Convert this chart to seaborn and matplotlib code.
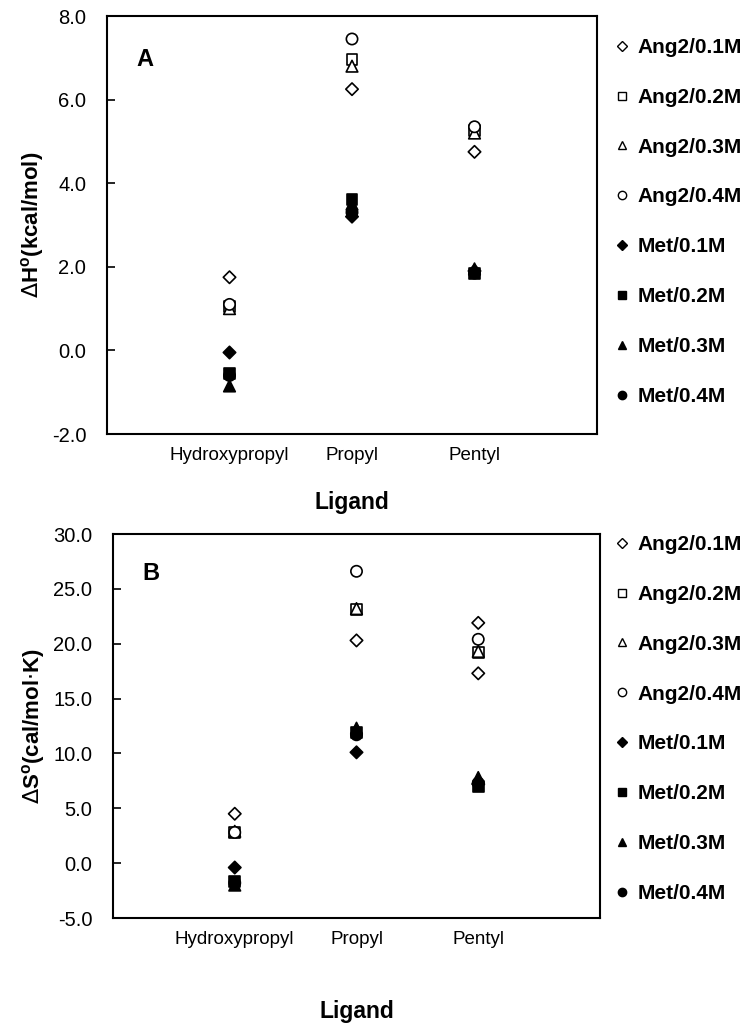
import numpy as np
import pandas as pd
import matplotlib
matplotlib.use("Agg")
import matplotlib.pyplot as plt
from matplotlib.lines import Line2D
import seaborn as sns

# Ligand categories and series names
ligands = ["Hydroxypropyl", "Propyl", "Pentyl"]
series = ["Ang2/0.1M", "Ang2/0.2M", "Ang2/0.3M", "Ang2/0.4M",
          "Met/0.1M", "Met/0.2M", "Met/0.3M", "Met/0.4M"]

# Panel A: enthalpy (kcal/mol), one value per ligand
dH_ang2_01 = [1.75, 6.25, 4.75]
dH_ang2_02 = [1.05, 6.95, 5.25]
dH_ang2_03 = [1.00, 6.80, 5.20]
dH_ang2_04 = [1.10, 7.45, 5.35]
dH_met_01 = [-0.05, 3.20, 1.90]
dH_met_02 = [-0.55, 3.60, 1.85]
dH_met_03 = [-0.85, 3.50, 1.95]
dH_met_04 = [-0.60, 3.30, 1.85]

# Panel B: entropy (cal/mol K)
dS_ang2_01 = [4.5, 20.3, 17.3]
dS_ang2_02 = [2.8, 23.1, 19.2]
dS_ang2_03 = [2.9, 23.2, 19.3]
dS_ang2_04 = [2.8, 26.6, 20.4]
dS_met_01 = [-0.4, 10.1, 7.2]
dS_met_02 = [-1.7, 11.9, 7.0]
dS_met_03 = [-2.0, 12.3, 7.8]
dS_met_04 = [-1.8, 11.7, 7.3]
# second open diamond seen at Pentyl in panel B
dS_ang2_01_extra_ligand = ["Pentyl"]
dS_ang2_01_extra = [21.9]

dH = [dH_ang2_01, dH_ang2_02, dH_ang2_03, dH_ang2_04,
      dH_met_01, dH_met_02, dH_met_03, dH_met_04]
dS = [dS_ang2_01, dS_ang2_02, dS_ang2_03, dS_ang2_04,
      dS_met_01, dS_met_02, dS_met_03, dS_met_04]

markers = dict(zip(series, ["D", "s", "^", "o", "D", "s", "^", "o"]))
fills = dict(zip(series, ["white"] * 4 + ["black"] * 4))
sizes = dict(zip(series, [40, 62, 70, 66] * 2))


def long_table(values):
    rows = []
    for name, vals in zip(series, values):
        for lig, v in zip(ligands, vals):
            rows.append((name, lig, v))
    return pd.DataFrame(rows, columns=["series", "ligand", "value"])


dfA = long_table(dH)
dfB = long_table(dS)
dfB = pd.concat([dfB, pd.DataFrame({"series": ["Ang2/0.1M"] * len(dS_ang2_01_extra),
                                    "ligand": dS_ang2_01_extra_ligand,
                                    "value": dS_ang2_01_extra})], ignore_index=True)

sns.set_style("white")
plt.rcParams['font.family'] = ['Liberation Sans', 'DejaVu Sans']
plt.rcParams['text.color'] = 'black'
plt.rcParams['axes.labelcolor'] = 'black'
plt.rcParams['xtick.color'] = 'black'
plt.rcParams['ytick.color'] = 'black'

W, H = 752, 1032
fig = plt.figure(figsize=(W / 100, H / 100), dpi=100)


def px_axes(left, top, right, bottom):
    return fig.add_axes([left / W, 1 - bottom / H, (right - left) / W, (bottom - top) / H])


axA = px_axes(107, 16, 597, 434)
axB = px_axes(113, 534, 600, 918)

panels = [
    (axA, dfA, (-2, 8), np.arange(-2, 8.1, 2), r"$\Delta$H$^\mathregular{o}$(kcal/mol)", "A", 38, 20),
    (axB, dfB, (-5, 30), np.arange(-5, 30.1, 5), r"$\Delta$S$^\mathregular{o}$(cal/mol$\cdot$K)", "B", 535, 38),
]

for ax, df, ylim, yt, ylab, letter, leg_top, xlpad in panels:
    df = df.copy()
    df["x"] = df["ligand"].map({l: i + 1 for i, l in enumerate(ligands)})
    sns.scatterplot(data=df, x="x", y="value", hue="series", style="series", size="series",
                    palette=fills, markers=markers, sizes=sizes,
                    hue_order=series, style_order=series, size_order=series,
                    edgecolor="black", linewidth=1.2, legend=False, ax=ax, zorder=3)
    ax.set_xlim(0, 4)
    ax.set_ylim(*ylim)
    ax.set_yticks(yt)
    ax.set_yticklabels([f"{v:.1f}" for v in yt], fontsize=14.5)
    ax.set_xticks([1, 2, 3])
    ax.set_xticklabels(ligands, fontsize=13.5)
    ax.tick_params(axis="y", direction="in", length=6, width=1.2, left=True, pad=15)
    ax.tick_params(axis="x", length=0, pad=9)
    for sp in ax.spines.values():
        sp.set_color("black")
        sp.set_linewidth(1.5)
    ax.set_xlabel("Ligand", fontsize=16.5, fontweight="bold", labelpad=xlpad)
    ax.set_ylabel(ylab, fontsize=16, fontweight="bold", labelpad=4)
    ax.text(0.06, 0.88, letter, transform=ax.transAxes, fontsize=17, fontweight="bold")

    handles = [Line2D([], [], linestyle="none", marker=markers[n], markersize=6 if markers[n] != "D" else 5,
                      markerfacecolor=fills[n], markeredgecolor="black", markeredgewidth=1)
               for n in series]
    ax.legend(handles, series, loc="upper left", frameon=False,
              bbox_to_anchor=(614 / W, 1 - leg_top / H), bbox_transform=fig.transFigure,
              prop={"size": 15, "weight": "bold"}, handlelength=0.8, handletextpad=0.35,
              labelspacing=1.48, borderpad=0, borderaxespad=0)

fig.savefig("out.png", dpi=100)
